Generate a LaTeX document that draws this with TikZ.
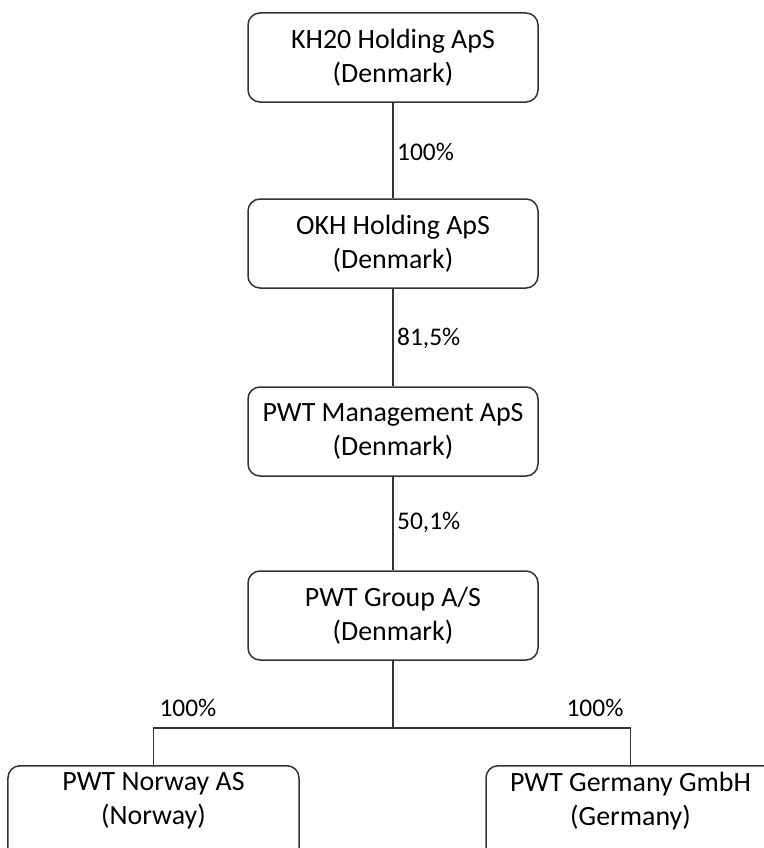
\documentclass[tikz,border=0pt]{standalone}
\usepackage{fontspec}
\setmainfont{Carlito}
\begin{document}
\begin{tikzpicture}[x=1bp,y=-1bp,
  box/.style={draw=black!80, line width=1.5bp, rounded corners=12bp, fill=white,
    minimum width=290bp, minimum height=89bp, align=center, inner sep=0pt,
    font=\fontsize{28}{34}\selectfont},
  boxtext/.style={align=center, inner sep=0pt, font=\fontsize{28}{34}\selectfont},
  conn/.style={draw=black!80, line width=1.5bp},
  pct/.style={inner sep=0pt, font=\fontsize{25.5}{31}\selectfont}]
\useasboundingbox (0,0) rectangle (764,848);
\clip (0,0) rectangle (764,848);
\fill[white] (0,0) rectangle (764,848);
% boxes
\node[box] (kh) at (393,57.5) {KH20 Holding ApS\\(Denmark)};
\node[box] (okh) at (393,243.5) {OKH Holding ApS\\(Denmark)};
\node[box] (mg) at (393,431.5) {PWT Management ApS\\(Denmark)};
\node[box] (dg) at (393,615.5) {PWT Group A/S\\(Denmark)};
\node[box, minimum width=291bp, minimum height=100bp, anchor=north] (no) at (153.5,765) {};
\node[boxtext] (notxt) at (153.5,801) {PWT Norway AS\\(Norway)};
\node[box, minimum width=289bp, minimum height=100bp, anchor=north] (de) at (630.5,765) {};
\node[boxtext] (detxt) at (630.5,801) {PWT Germany GmbH\\(Germany)};
% connectors
\draw[conn] (kh.south) -- (okh.north);
\draw[conn] (okh.south) -- (mg.north);
\draw[conn] (mg.south) -- (dg.north);
\coordinate (j) at (393,728);
\draw[conn] (dg.south) -- (j) -| (no.north);
\draw[conn] (j) -| (de.north);
% labels
\node[pct, anchor=base west] (l1) at (397,160) {100\%};
\node[pct, anchor=base west] (l2) at (397,345) {81,5\%};
\node[pct, anchor=base west] (l3) at (397,529) {50,1\%};
\node[pct, anchor=base] (l4) at (188,716) {100\%};
\node[pct, anchor=base] (l5) at (595,716) {100\%};
\end{tikzpicture}
\end{document}
